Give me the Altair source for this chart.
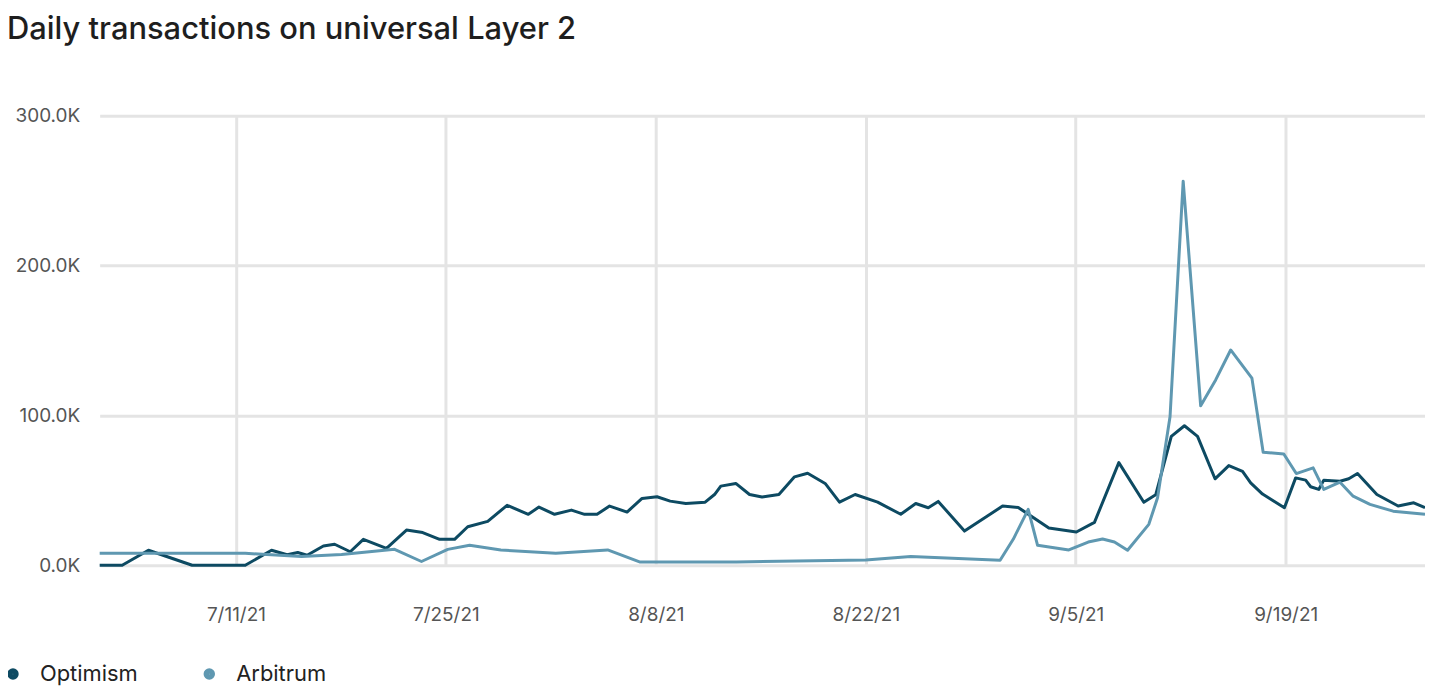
import altair as alt
import pandas as pd

series_names = ["Optimism", "Arbitrum"]
series_colors = ["#0d4a62", "#5f98b1"]

opt_dates = [
    "2021-07-01 22:00", "2021-07-03 10:00", "2021-07-05 04:00", "2021-07-08 02:00",
    "2021-07-11 15:00", "2021-07-13 09:00", "2021-07-14 10:00", "2021-07-15 03:00",
    "2021-07-15 18:00", "2021-07-16 20:00", "2021-07-17 14:00", "2021-07-18 15:00",
    "2021-07-19 12:00", "2021-07-21 01:00", "2021-07-22 09:00", "2021-07-23 11:00",
    "2021-07-24 14:00", "2021-07-25 14:00", "2021-07-26 11:00", "2021-07-27 19:00",
    "2021-07-29 02:00", "2021-07-30 12:00", "2021-07-31 05:00", "2021-08-01 06:00",
    "2021-08-02 09:00", "2021-08-03 06:00", "2021-08-04 02:00", "2021-08-04 22:00",
    "2021-08-06 02:00", "2021-08-07 02:00", "2021-08-08 02:00", "2021-08-08 23:00",
    "2021-08-10 00:00", "2021-08-11 07:00", "2021-08-11 22:00", "2021-08-12 08:00",
    "2021-08-13 08:00", "2021-08-14 06:00", "2021-08-15 02:00", "2021-08-16 05:00",
    "2021-08-17 06:00", "2021-08-18 03:00", "2021-08-19 07:00", "2021-08-20 06:00",
    "2021-08-21 07:00", "2021-08-22 19:00", "2021-08-24 08:00", "2021-08-25 08:00",
    "2021-08-26 04:00", "2021-08-26 20:00", "2021-08-28 14:00", "2021-08-31 03:00",
    "2021-09-01 04:00", "2021-09-03 05:00", "2021-09-05 01:00", "2021-09-06 06:00",
    "2021-09-07 21:00", "2021-09-09 13:00", "2021-09-10 08:00", "2021-09-11 09:00",
    "2021-09-12 06:00", "2021-09-13 03:00", "2021-09-14 07:00", "2021-09-15 05:00",
    "2021-09-16 03:00", "2021-09-16 16:00", "2021-09-17 11:00", "2021-09-18 22:00",
    "2021-09-19 16:00", "2021-09-20 08:00", "2021-09-20 16:00", "2021-09-21 05:00",
    "2021-09-21 13:00", "2021-09-22 15:00", "2021-09-23 05:00", "2021-09-23 19:00",
    "2021-09-25 02:00", "2021-09-26 12:00", "2021-09-27 13:00", "2021-09-28 07:00",
]
opt_values = [
    0, 0, 10000, 0,
    0, 10000, 7000, 8500,
    6700, 12800, 14000, 9000,
    17300, 11300, 23500, 21800,
    17300, 17300, 25700, 29300,
    40000, 34000, 38800, 34000,
    36800, 34000, 34000, 39500,
    35500, 44600, 45700, 42800,
    41200, 42100, 47200, 52800,
    54600, 47200, 45500, 47200,
    59000, 61400, 54600, 42100,
    47200, 42100, 34000, 41200,
    38400, 42600, 22800, 39500,
    38600, 24800, 22200, 28600,
    68500, 42000, 47000, 86000,
    93100, 86000, 57700, 66500,
    62700, 55000, 47500, 38400,
    58300, 56800, 52400, 50600,
    56800, 56100, 57700, 61200,
    47200, 39500, 41700, 38400,
]

arb_dates = [
    "2021-07-01 22:00", "2021-07-11 15:00", "2021-07-15 09:00", "2021-07-18 01:00",
    "2021-07-21 14:00", "2021-07-23 09:00", "2021-07-25 03:00", "2021-07-26 14:00",
    "2021-07-28 16:00", "2021-08-01 08:00", "2021-08-04 19:00", "2021-08-06 22:00",
    "2021-08-13 09:00", "2021-08-22 00:00", "2021-08-25 00:00", "2021-08-30 23:00",
    "2021-08-31 20:00", "2021-09-01 20:00", "2021-09-02 11:00", "2021-09-04 13:00",
    "2021-09-05 20:00", "2021-09-06 19:00", "2021-09-07 14:00", "2021-09-08 11:00",
    "2021-09-09 21:00", "2021-09-10 11:00", "2021-09-11 07:00", "2021-09-12 04:00",
    "2021-09-13 08:00", "2021-09-14 08:00", "2021-09-15 08:00", "2021-09-16 18:00",
    "2021-09-17 12:00", "2021-09-18 21:00", "2021-09-19 17:00", "2021-09-20 20:00",
    "2021-09-21 13:00", "2021-09-22 15:00", "2021-09-23 12:00", "2021-09-24 15:00",
    "2021-09-26 04:00", "2021-09-28 07:00",
]
arb_values = [
    8000, 8000, 5800, 7200,
    10600, 2500, 10600, 13300,
    10200, 8000, 10200, 2200,
    2200, 3500, 5800, 3300,
    17300, 37300, 13300, 10200,
    15500, 17500, 15500, 10000,
    27300, 45000, 99300, 256400,
    106400, 123700, 143700, 124900,
    75400, 74300, 61200, 65000,
    50600, 55400, 46100, 40600,
    36100, 34000,
]

x_tick_dates = [(2021, 7, 11), (2021, 7, 25), (2021, 8, 8), (2021, 8, 22), (2021, 9, 5), (2021, 9, 19)]
y_tick_values = [0, 100000, 200000, 300000]

df = pd.concat([
    pd.DataFrame({"date": opt_dates, "value": opt_values, "series": series_names[0]}),
    pd.DataFrame({"date": arb_dates, "value": arb_values, "series": series_names[1]}),
])

FONT = "Inter"

chart = alt.Chart(df).mark_line(strokeWidth=3, strokeJoin="round").encode(
    x=alt.X(
        "date:T",
        title=None,
        axis=alt.Axis(
            values=[alt.DateTime(year=y, month=m, date=d) for (y, m, d) in x_tick_dates],
            format="%-m/%-d/%y",
            labelFontSize=19,
            labelColor="#555555",
            labelPadding=40,
            ticks=False,
            domain=False,
            grid=True,
            gridColor="#e4e4e4",
            gridWidth=3,
            labelFont=FONT,
        ),
    ),
    y=alt.Y(
        "value:Q",
        title=None,
        scale=alt.Scale(domain=[0, 300000], nice=False),
        axis=alt.Axis(
            values=y_tick_values,
            labelExpr="format(datum.value / 1000, '.1f') + 'K'",
            labelFontSize=19,
            labelColor="#555555",
            labelPadding=20,
            ticks=False,
            domain=False,
            grid=True,
            gridColor="#e4e4e4",
            gridWidth=3,
            labelFont=FONT,
        ),
    ),
    color=alt.Color(
        "series:N",
        scale=alt.Scale(domain=series_names, range=series_colors),
        legend=alt.Legend(
            title=None,
            orient="none",
            legendX=-98,
            legendY=549,
            direction="horizontal",
            symbolType="circle",
            symbolSize=30,
            symbolStrokeWidth=6,
            labelFontSize=22,
            labelFont=FONT,
            labelColor="#222222",
            labelOffset=16,
            columnPadding=56,
        ),
    ),
    order="date:T",
).properties(
    width=1330,
    height=451,
    title=alt.TitleParams(
        "Daily transactions on universal Layer 2",
        anchor="start",
        frame="group",
        dx=-93,
        dy=-57,
        fontSize=31,
        fontWeight=500,
        font=FONT,
        color="#1e1e1e",
    ),
    autosize=alt.AutoSizeParams(type="none"),
    padding={"left": 92, "top": 107, "right": 0, "bottom": 122},
).configure_view(stroke=None)

chart.save("out.html", embed_options={"renderer": "svg", "actions": False})
